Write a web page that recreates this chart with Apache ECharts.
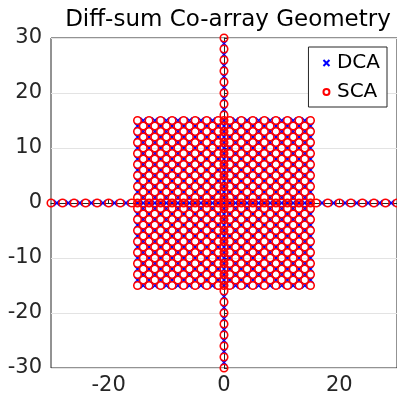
<!DOCTYPE html>
<html>
<head>
<meta charset="utf-8">
<script src="https://cdn.jsdelivr.net/npm/echarts@6/dist/echarts.min.js"></script>
<style>
  html, body { margin: 0; padding: 0; background: #fff; }
  #chart { width: 397px; height: 402px; }
</style>
</head>
<body>
<div id="chart"></div>
<script>
  // lattice coordinates of the square block and of the two arms
  var squareCoords = [-15, -14, -13, -12, -11, -10, -9, -8, -7, -6, -5, -4, -3, -2, -1, 0,
    1, 2, 3, 4, 5, 6, 7, 8, 9, 10, 11, 12, 13, 14, 15];
  var armCoords = [-30, -29, -28, -27, -26, -25, -24, -23, -22, -21, -20, -19, -18, -17, -16,
    16, 17, 18, 19, 20, 21, 22, 23, 24, 25, 26, 27, 28, 29, 30];
  var xTicks = [-20, 0, 20];
  var yTicks = [-30, -20, -10, 0, 10, 20, 30];

  // DCA takes the odd sites of the checkerboard, SCA the even ones;
  // on the axes inside the block both arrays fill every site
  function buildPoints(parity) {
    var pts = [];
    squareCoords.forEach(function (x) {
      squareCoords.forEach(function (y) {
        if (x === 0 || y === 0) return;
        if (Math.abs(x + y) % 2 === parity) pts.push([x, y]);
      });
    });
    squareCoords.forEach(function (v) {
      pts.push([v, 0]);
      if (v !== 0) pts.push([0, v]);
    });
    armCoords.forEach(function (v) {
      if (Math.abs(v) % 2 === parity) {
        pts.push([v, 0]);
        pts.push([0, v]);
      }
    });
    return pts;
  }
  var dcaPoints = buildPoints(1);
  var scaPoints = buildPoints(0);

  var font = 'DejaVu Sans';
  var axisColor = '#262626';
  var gridColor = '#e3e3e3';
  var crossPath = 'path://M0,0L10,10M0,10L10,0';

  var myChart = echarts.init(document.getElementById('chart'));
  myChart.setOption({
    animation: false,
    backgroundColor: '#fff',
    title: {
      text: 'Diff-sum Co-array Geometry',
      left: 223,
      top: 4,
      textAlign: 'center',
      textStyle: { fontFamily: font, fontSize: 23, fontWeight: 'normal', color: '#000' }
    },
    legend: {
      orient: 'vertical',
      right: 10,
      top: 47,
      padding: [6, 7, 5, 14],
      itemGap: 9,
      itemWidth: 11,
      itemHeight: 6,
      backgroundColor: '#fff',
      borderColor: axisColor,
      borderWidth: 1,
      borderRadius: 0,
      textStyle: { fontFamily: font, fontSize: 20, color: '#000' },
      data: ['DCA', 'SCA']
    },
    grid: {
      left: 51,
      top: 38,
      right: -2,
      bottom: 34,
      show: true,
      borderColor: axisColor,
      borderWidth: 1,
      containLabel: false
    },
    xAxis: {
      type: 'value',
      min: -30,
      max: 30,
      interval: 10,
      axisLine: { show: true, lineStyle: { color: axisColor } },
      axisTick: { show: true, inside: true, length: 4, customValues: xTicks, lineStyle: { color: axisColor } },
      axisLabel: {
        customValues: xTicks,
        margin: 7,
        fontFamily: font,
        fontSize: 21,
        color: axisColor
      },
      // only the -20 / 0 / 20 lines are visible
      splitLine: { show: true, lineStyle: { color: ['rgba(0,0,0,0)', gridColor] } }
    },
    yAxis: {
      type: 'value',
      min: -30,
      max: 30,
      interval: 10,
      axisLine: { show: true, lineStyle: { color: axisColor } },
      axisTick: { show: true, inside: true, length: 4, lineStyle: { color: axisColor } },
      axisLabel: {
        customValues: yTicks,
        margin: 9,
        fontFamily: font,
        fontSize: 21,
        color: axisColor
      },
      splitLine: { show: true, lineStyle: { color: gridColor } }
    },
    series: [
      {
        name: 'DCA',
        type: 'scatter',
        symbol: crossPath,
        symbolSize: 6,
        silent: true,
        itemStyle: { color: 'rgba(0,0,0,0)', borderColor: '#0000ff', borderWidth: 1.6, opacity: 1 },
        data: dcaPoints
      },
      {
        name: 'SCA',
        type: 'scatter',
        symbol: 'circle',
        symbolSize: 7.5,
        silent: true,
        itemStyle: { color: 'rgba(0,0,0,0)', borderColor: '#ff0000', borderWidth: 1.6, opacity: 1 },
        data: scaPoints
      }
    ]
  });
</script>
</body>
</html>
